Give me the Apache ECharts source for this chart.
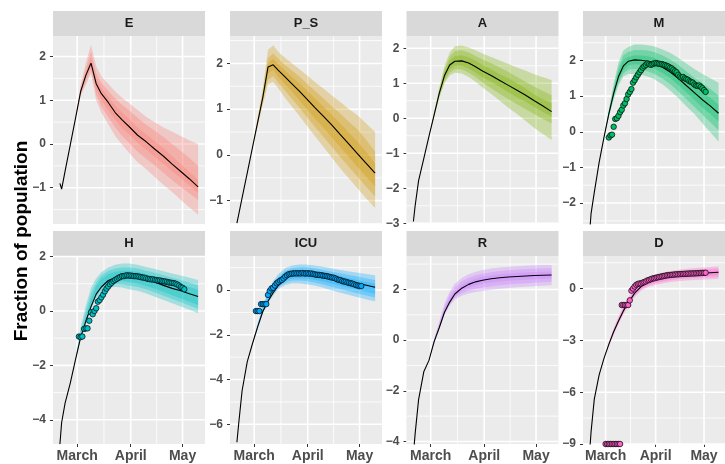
<!DOCTYPE html>
<html>
<head>
<meta charset="utf-8">
<script src="https://cdn.jsdelivr.net/npm/echarts@6/dist/echarts.min.js"></script>
<style>
html, body { margin: 0; padding: 0; background: #fff; }
#main { width: 725px; height: 464px; }
</style>
</head>
<body>
<div id="main"></div>
<script>
// days since 1 March
var medianDays = [-10, -9, -7, -4, -1, 2, 5, 8, 11, 14, 18, 22, 26, 30, 35, 40, 45, 50, 55, 60, 65, 70];
var bandDays = [-1, 2, 5, 8, 11, 14, 18, 22, 26, 30, 35, 40, 45, 50, 55, 60, 65, 70];
var monthTicks = [0, 31, 61];
var monthLabels = ['March', 'April', 'May'];

// E
var eMedian = [-0.9, -1.03, -0.62, -0.02, 0.58, 1.2, 1.57, 1.85, 1.38, 1.15, 0.95, 0.72, 0.55, 0.4, 0.2, 0.05, -0.12, -0.28, -0.46, -0.63, -0.8, -0.98];
var eOuterLo = [0.58, 1.1, 1.35, 1.62, 1.0, 0.72, 0.45, 0.18, -0.02, -0.2, -0.42, -0.58, -0.76, -0.94, -1.1, -1.28, -1.45, -1.62];
var eOuterHi = [0.58, 1.35, 1.85, 2.27, 1.78, 1.55, 1.38, 1.2, 1.06, 0.94, 0.78, 0.62, 0.5, 0.38, 0.28, 0.18, 0.08, 0.0];
var eMidLo = [0.58, 1.14, 1.42, 1.7, 1.12, 0.86, 0.62, 0.38, 0.18, 0.02, -0.18, -0.34, -0.5, -0.66, -0.83, -0.98, -1.13, -1.28];
var eMidHi = [0.58, 1.28, 1.72, 2.12, 1.62, 1.4, 1.22, 1.04, 0.9, 0.77, 0.6, 0.44, 0.3, 0.16, 0.0, -0.16, -0.32, -0.5];
var eInnerLo = [0.58, 1.17, 1.5, 1.78, 1.25, 1.0, 0.78, 0.55, 0.36, 0.22, 0.02, -0.13, -0.3, -0.46, -0.63, -0.78, -0.95, -1.12];
var eInnerHi = [0.58, 1.24, 1.64, 1.96, 1.5, 1.28, 1.08, 0.88, 0.72, 0.58, 0.38, 0.22, 0.06, -0.1, -0.28, -0.46, -0.64, -0.82];

// P_S
var pMedian = [-1.49, -1.31, -0.94, -0.39, 0.16, 0.71, 1.26, 1.92, 1.97, 1.85, 1.7, 1.55, 1.4, 1.24, 1.04, 0.85, 0.65, 0.44, 0.23, 0.02, -0.19, -0.4];
var pOuterLo = [0.16, 0.62, 1.1, 1.55, 1.6, 1.45, 1.24, 1.05, 0.86, 0.66, 0.42, 0.18, -0.06, -0.3, -0.52, -0.74, -0.96, -1.16];
var pOuterHi = [0.16, 0.8, 1.45, 2.3, 2.4, 2.25, 2.12, 2.0, 1.88, 1.76, 1.6, 1.45, 1.3, 1.15, 1.0, 0.86, 0.68, 0.5];
var pMidLo = [0.16, 0.65, 1.15, 1.65, 1.72, 1.58, 1.4, 1.22, 1.04, 0.85, 0.62, 0.4, 0.18, -0.05, -0.27, -0.48, -0.7, -0.91];
var pMidHi = [0.16, 0.77, 1.38, 2.12, 2.22, 2.1, 1.96, 1.84, 1.72, 1.58, 1.41, 1.24, 1.06, 0.9, 0.72, 0.55, 0.32, 0.07];
var pInnerLo = [0.16, 0.68, 1.2, 1.78, 1.86, 1.7, 1.54, 1.38, 1.2, 1.02, 0.8, 0.6, 0.38, 0.16, -0.05, -0.27, -0.48, -0.69];
var pInnerHi = [0.16, 0.74, 1.32, 2.0, 2.1, 1.98, 1.84, 1.7, 1.57, 1.43, 1.24, 1.06, 0.88, 0.68, 0.48, 0.28, 0.06, -0.18];

// A
var aMedian = [-2.95, -2.5, -1.78, -1.15, -0.52, 0.1, 0.72, 1.22, 1.52, 1.63, 1.64, 1.58, 1.47, 1.35, 1.22, 1.08, 0.94, 0.8, 0.66, 0.5, 0.35, 0.19];
var aOuterLo = [-0.52, 0.03, 0.58, 1.0, 1.22, 1.3, 1.28, 1.18, 1.04, 0.88, 0.7, 0.5, 0.3, 0.12, -0.08, -0.28, -0.45, -0.62];
var aOuterHi = [-0.52, 0.18, 0.88, 1.5, 1.88, 2.06, 2.08, 2.02, 1.94, 1.85, 1.75, 1.65, 1.55, 1.45, 1.36, 1.26, 1.17, 1.09];
var aMidLo = [-0.52, 0.05, 0.62, 1.06, 1.3, 1.4, 1.4, 1.3, 1.18, 1.03, 0.86, 0.7, 0.54, 0.4, 0.26, 0.12, -0.02, -0.14];
var aMidHi = [-0.52, 0.15, 0.82, 1.4, 1.76, 1.92, 1.94, 1.88, 1.78, 1.68, 1.57, 1.45, 1.32, 1.18, 1.04, 0.9, 0.78, 0.66];
var aInnerLo = [-0.52, 0.07, 0.66, 1.12, 1.4, 1.5, 1.5, 1.42, 1.3, 1.17, 1.04, 0.9, 0.74, 0.6, 0.47, 0.32, 0.18, 0.05];
var aInnerHi = [-0.52, 0.13, 0.78, 1.32, 1.64, 1.78, 1.8, 1.74, 1.64, 1.52, 1.4, 1.26, 1.14, 1.0, 0.85, 0.68, 0.54, 0.43];

// M
var mMedian = [-2.9, -2.3, -1.7, -0.86, -0.16, 0.5, 1.08, 1.55, 1.85, 1.98, 2.02, 2.01, 1.98, 1.93, 1.82, 1.68, 1.5, 1.3, 1.1, 0.9, 0.72, 0.52];
var mOuterLo = [-0.16, 0.4, 0.9, 1.3, 1.55, 1.62, 1.62, 1.6, 1.55, 1.48, 1.34, 1.16, 0.95, 0.72, 0.5, 0.24, -0.02, -0.28];
var mOuterHi = [-0.16, 0.62, 1.35, 1.95, 2.28, 2.38, 2.45, 2.45, 2.43, 2.4, 2.32, 2.22, 2.08, 1.92, 1.76, 1.62, 1.5, 1.38];
var mMidLo = [-0.16, 0.43, 0.96, 1.38, 1.64, 1.74, 1.76, 1.74, 1.7, 1.63, 1.5, 1.34, 1.14, 0.92, 0.7, 0.48, 0.26, 0.04];
var mMidHi = [-0.16, 0.58, 1.26, 1.82, 2.15, 2.24, 2.3, 2.3, 2.28, 2.24, 2.15, 2.03, 1.88, 1.7, 1.52, 1.36, 1.2, 1.02];
var mInnerLo = [-0.16, 0.45, 1.0, 1.45, 1.72, 1.86, 1.9, 1.88, 1.84, 1.78, 1.66, 1.51, 1.32, 1.11, 0.9, 0.68, 0.49, 0.29];
var mInnerHi = [-0.16, 0.55, 1.18, 1.7, 2.02, 2.1, 2.15, 2.14, 2.12, 2.08, 1.98, 1.85, 1.68, 1.49, 1.3, 1.12, 0.95, 0.76];
var mObs = [[2, -0.16], [3, -0.1], [4, -0.08], [5, 0.14], [6, 0.36], [7, 0.38], [8, 0.45], [9, 0.55], [10, 0.62], [11, 0.74],
  [12, 0.8], [13, 0.92], [14, 1.05], [15, 1.12], [16, 1.2], [17, 1.38], [18, 1.45], [19, 1.53], [20, 1.6], [21, 1.67],
  [22, 1.73], [23, 1.8], [24, 1.84], [25, 1.88], [26, 1.92], [27, 1.9], [28, 1.88], [29, 1.9], [30, 1.92], [31, 1.93],
  [32, 1.92], [33, 1.91], [34, 1.9], [35, 1.9], [36, 1.88], [37, 1.87], [38, 1.85], [39, 1.83], [40, 1.8], [41, 1.78],
  [42, 1.74], [43, 1.7], [44, 1.67], [45, 1.6], [46, 1.55], [47, 1.52], [48, 1.54], [49, 1.5], [50, 1.48], [51, 1.46],
  [52, 1.42], [53, 1.4], [54, 1.38], [55, 1.33], [56, 1.3], [57, 1.29], [58, 1.3], [59, 1.26], [60, 1.22], [61, 1.17], [62, 1.12]];

// H
var hMedian = [-4.9, -4.1, -3.39, -2.65, -1.8, -0.97, -0.38, 0.16, 0.62, 0.88, 1.12, 1.22, 1.28, 1.3, 1.27, 1.18, 1.06, 0.94, 0.83, 0.74, 0.63, 0.53];
var hOuterLo = [-1.8, -1.05, -0.5, 0.05, 0.45, 0.72, 0.86, 0.88, 0.86, 0.8, 0.74, 0.64, 0.52, 0.4, 0.28, 0.16, 0.04, -0.08];
var hOuterHi = [-1.8, -0.6, 0.2, 0.85, 1.2, 1.42, 1.6, 1.7, 1.74, 1.74, 1.7, 1.62, 1.54, 1.46, 1.38, 1.3, 1.22, 1.14];
var hMidLo = [-1.8, -1.0, -0.45, 0.1, 0.52, 0.8, 0.96, 1.0, 0.98, 0.94, 0.88, 0.8, 0.68, 0.56, 0.44, 0.32, 0.2, 0.08];
var hMidHi = [-1.8, -0.72, 0.0, 0.65, 1.05, 1.3, 1.48, 1.56, 1.6, 1.6, 1.56, 1.48, 1.4, 1.31, 1.22, 1.14, 1.04, 0.94];
var hInnerLo = [-1.8, -0.98, -0.42, 0.15, 0.6, 0.88, 1.05, 1.1, 1.1, 1.06, 1.0, 0.92, 0.82, 0.7, 0.58, 0.46, 0.34, 0.22];
var hInnerHi = [-1.8, -0.85, -0.2, 0.45, 0.92, 1.18, 1.36, 1.44, 1.48, 1.48, 1.44, 1.36, 1.27, 1.18, 1.08, 0.98, 0.88, 0.78];
var hObs = [[1, -0.94], [2, -0.96], [3, -0.94], [4, -0.66], [5, -0.64], [6, -0.64], [7, -0.36], [8, -0.05], [9, -0.12], [10, 0.0],
  [11, 0.1], [12, 0.34], [13, 0.4], [14, 0.5], [15, 0.6], [16, 0.72], [17, 0.82], [18, 0.9], [19, 0.98], [20, 1.04],
  [21, 1.1], [22, 1.14], [23, 1.18], [24, 1.22], [25, 1.25], [26, 1.28], [27, 1.28], [28, 1.3], [29, 1.31], [30, 1.3],
  [31, 1.3], [32, 1.29], [33, 1.28], [34, 1.28], [35, 1.27], [36, 1.26], [37, 1.24], [38, 1.23], [39, 1.22], [40, 1.2],
  [41, 1.18], [42, 1.17], [43, 1.16], [44, 1.16], [45, 1.14], [46, 1.13], [47, 1.12], [48, 1.12], [49, 1.1], [50, 1.09],
  [51, 1.08], [52, 1.07], [53, 1.05], [54, 1.04], [55, 1.03], [56, 1.02], [57, 1.0], [58, 0.97], [59, 0.93], [60, 0.88],
  [61, 0.85], [62, 0.8]];

// ICU
var iMedian = [-6.8, -6.0, -4.5, -3.2, -2.4, -1.65, -0.96, -0.5, -0.12, 0.2, 0.5, 0.7, 0.76, 0.77, 0.72, 0.64, 0.54, 0.46, 0.38, 0.3, 0.21, 0.12];
var iOuterLo = [-2.4, -1.75, -1.05, -0.6, -0.25, 0.05, 0.22, 0.3, 0.3, 0.26, 0.2, 0.1, -0.02, -0.12, -0.22, -0.32, -0.42, -0.5];
var iOuterHi = [-2.4, -1.5, -0.7, -0.05, 0.4, 0.72, 0.98, 1.1, 1.14, 1.14, 1.1, 1.04, 0.96, 0.9, 0.83, 0.77, 0.72, 0.66];
var iMidLo = [-2.4, -1.72, -1.0, -0.55, -0.18, 0.12, 0.32, 0.42, 0.42, 0.4, 0.34, 0.25, 0.14, 0.04, -0.05, -0.15, -0.25, -0.33];
var iMidHi = [-2.4, -1.56, -0.78, -0.2, 0.25, 0.58, 0.86, 0.98, 1.02, 1.02, 0.97, 0.9, 0.82, 0.75, 0.67, 0.6, 0.52, 0.45];
var iInnerLo = [-2.4, -1.69, -0.98, -0.5, -0.12, 0.18, 0.42, 0.52, 0.53, 0.52, 0.46, 0.38, 0.28, 0.19, 0.1, 0.01, -0.08, -0.17];
var iInnerHi = [-2.4, -1.6, -0.86, -0.32, 0.12, 0.45, 0.74, 0.86, 0.9, 0.9, 0.85, 0.78, 0.69, 0.61, 0.53, 0.45, 0.36, 0.28];
var iObs = [[1, -0.94], [2, -0.94], [3, -0.94], [4, -0.63], [5, -0.63], [6, -0.63], [7, -0.63], [8, -0.22], [9, -0.04], [10, 0.07],
  [11, 0.1], [12, 0.2], [13, 0.3], [14, 0.36], [15, 0.42], [16, 0.45], [17, 0.52], [18, 0.6], [19, 0.66], [20, 0.71],
  [21, 0.72], [22, 0.74], [23, 0.74], [24, 0.75], [25, 0.74], [26, 0.75], [27, 0.74], [28, 0.76], [29, 0.74], [30, 0.74],
  [31, 0.75], [32, 0.73], [33, 0.74], [34, 0.72], [35, 0.7], [36, 0.68], [37, 0.68], [38, 0.67], [39, 0.66], [40, 0.64],
  [41, 0.63], [42, 0.62], [43, 0.6], [44, 0.58], [45, 0.56], [46, 0.55], [47, 0.52], [48, 0.48], [49, 0.45], [50, 0.44],
  [51, 0.4], [52, 0.38], [53, 0.37], [54, 0.34], [55, 0.32], [56, 0.3], [57, 0.28], [58, 0.25], [59, 0.22], [60, 0.2],
  [61, 0.18], [62, 0.18]];

// R
var rMedian = [-4.5, -3.7, -2.35, -1.25, -0.8, -0.06, 0.5, 1.1, 1.5, 1.82, 2.05, 2.2, 2.3, 2.36, 2.42, 2.46, 2.49, 2.51, 2.53, 2.55, 2.56, 2.57];
var rOuterLo = [-0.8, -0.12, 0.42, 1.0, 1.35, 1.6, 1.75, 1.84, 1.9, 1.94, 1.99, 2.03, 2.06, 2.09, 2.11, 2.13, 2.15, 2.17];
var rOuterHi = [-0.8, 0.05, 0.75, 1.45, 1.92, 2.22, 2.45, 2.6, 2.7, 2.77, 2.83, 2.87, 2.9, 2.92, 2.94, 2.95, 2.96, 2.96];
var rMidLo = [-0.8, -0.1, 0.45, 1.04, 1.41, 1.68, 1.85, 1.96, 2.03, 2.08, 2.13, 2.17, 2.2, 2.22, 2.24, 2.26, 2.28, 2.3];
var rMidHi = [-0.8, 0.02, 0.66, 1.34, 1.8, 2.08, 2.32, 2.46, 2.56, 2.62, 2.68, 2.73, 2.76, 2.78, 2.8, 2.82, 2.83, 2.84];
var rInnerLo = [-0.8, -0.08, 0.47, 1.07, 1.46, 1.75, 1.95, 2.07, 2.16, 2.22, 2.27, 2.31, 2.34, 2.36, 2.38, 2.4, 2.42, 2.43];
var rInnerHi = [-0.8, -0.02, 0.58, 1.24, 1.66, 1.95, 2.18, 2.33, 2.43, 2.5, 2.56, 2.6, 2.63, 2.65, 2.67, 2.69, 2.7, 2.71];

// D
var dMedian = [-9.6, -8.3, -6.4, -5.0, -4.04, -3.23, -2.5, -1.88, -1.29, -0.83, -0.26, 0.12, 0.35, 0.48, 0.6, 0.7, 0.77, 0.82, 0.86, 0.89, 0.92, 0.95];
var dOuterLo = [-4.04, -3.35, -2.65, -2.05, -1.5, -1.05, -0.5, -0.12, 0.08, 0.2, 0.3, 0.38, 0.43, 0.47, 0.5, 0.52, 0.54, 0.56];
var dOuterHi = [-4.04, -3.1, -2.3, -1.6, -1.0, -0.5, 0.05, 0.42, 0.64, 0.8, 0.92, 1.02, 1.1, 1.15, 1.2, 1.23, 1.26, 1.3];
var dMidLo = [-4.04, -3.3, -2.6, -1.98, -1.42, -0.97, -0.42, -0.04, 0.16, 0.29, 0.4, 0.48, 0.54, 0.58, 0.61, 0.64, 0.66, 0.68];
var dMidHi = [-4.04, -3.15, -2.38, -1.7, -1.1, -0.62, -0.06, 0.31, 0.54, 0.69, 0.82, 0.92, 0.99, 1.04, 1.08, 1.12, 1.15, 1.18];
var dInnerLo = [-4.04, -3.27, -2.55, -1.93, -1.36, -0.9, -0.34, 0.03, 0.24, 0.37, 0.49, 0.58, 0.64, 0.68, 0.72, 0.75, 0.78, 0.8];
var dInnerHi = [-4.04, -3.19, -2.44, -1.8, -1.2, -0.72, -0.17, 0.22, 0.45, 0.59, 0.72, 0.82, 0.89, 0.94, 0.98, 1.01, 1.04, 1.07];
var dObs = [[0, -9], [1, -9], [2, -9], [3, -9], [4, -9], [5, -9], [6, -9], [7, -9], [8, -9], [9, -9],
  [10, -0.95], [11, -0.95], [12, -0.95], [13, -0.95], [14, -0.95], [15, -0.68], [16, -0.12], [17, 0.0], [18, 0.12], [19, 0.22],
  [20, 0.27], [21, 0.3], [22, 0.3], [23, 0.35], [24, 0.38], [25, 0.42], [26, 0.48], [27, 0.5], [28, 0.55], [29, 0.58],
  [30, 0.6], [31, 0.62], [32, 0.65], [33, 0.67], [34, 0.69], [35, 0.71], [36, 0.73], [37, 0.75], [38, 0.77], [39, 0.78],
  [40, 0.79], [41, 0.8], [42, 0.81], [43, 0.82], [44, 0.83], [45, 0.83], [46, 0.84], [47, 0.85], [48, 0.85], [49, 0.86],
  [50, 0.86], [51, 0.87], [52, 0.87], [53, 0.88], [54, 0.88], [55, 0.88], [56, 0.89], [57, 0.89], [58, 0.9], [59, 0.9],
  [60, 0.91], [61, 0.91], [62, 0.92]];

// layout of the facets
var colLeft = [53, 230, 406.5, 583];
var rowTop = [36, 256];
var panelW = 152, panelH = 188, stripH = 25;
var xMin = -14, xMax = 74;
var font = '"Liberation Sans", Arial, sans-serif';

var panels = [
  {name: 'E', color: '#F8766D', col: 0, row: 0, yMin: -1.83, yMax: 2.47, ticks: [-1, 0, 1, 2], median: eMedian,
    bands: [[eOuterLo, eOuterHi], [eMidLo, eMidHi], [eInnerLo, eInnerHi]]},
  {name: 'P_S', color: '#CD9600', col: 1, row: 0, yMin: -1.51, yMax: 2.6, ticks: [-1, 0, 1, 2], median: pMedian,
    bands: [[pOuterLo, pOuterHi], [pMidLo, pMidHi], [pInnerLo, pInnerHi]]},
  {name: 'A', color: '#7CAE00', col: 2, row: 0, yMin: -3.02, yMax: 2.35, ticks: [-3, -2, -1, 0, 1, 2], median: aMedian,
    bands: [[aOuterLo, aOuterHi], [aMidLo, aMidHi], [aInnerLo, aInnerHi]]},
  {name: 'M', color: '#00BE67', col: 3, row: 0, yMin: -2.59, yMax: 2.69, ticks: [-2, -1, 0, 1, 2], median: mMedian,
    bands: [[mOuterLo, mOuterHi], [mMidLo, mMidHi], [mInnerLo, mInnerHi]], obs: mObs},
  {name: 'H', color: '#00BFC4', col: 0, row: 1, yMin: -4.89, yMax: 2.02, ticks: [-4, -2, 0, 2], median: hMedian,
    bands: [[hOuterLo, hOuterHi], [hMidLo, hMidHi], [hInnerLo, hInnerHi]], obs: hObs},
  {name: 'ICU', color: '#00A9FF', col: 1, row: 1, yMin: -6.88, yMax: 1.52, ticks: [-6, -4, -2, 0], median: iMedian,
    bands: [[iOuterLo, iOuterHi], [iMidLo, iMidHi], [iInnerLo, iInnerHi]], obs: iObs},
  {name: 'R', color: '#C77CFF', col: 2, row: 1, yMin: -4.1, yMax: 3.32, ticks: [-4, -2, 0, 2], median: rMedian,
    bands: [[rOuterLo, rOuterHi], [rMidLo, rMidHi], [rInnerLo, rInnerHi]]},
  {name: 'D', color: '#FF61CC', col: 3, row: 1, yMin: -9, yMax: 1.89, ticks: [-9, -6, -3, 0], median: dMedian,
    bands: [[dOuterLo, dOuterHi], [dMidLo, dMidHi], [dInnerLo, dInnerHi]], obs: dObs}
];

function minusLabel(v) {
  return v < 0 ? '\u2212' + Math.abs(v) : String(v);
}

// minor breaks half way between the labelled ones
function minorBreaks(ticks, lo, hi) {
  var out = [], step = ticks[1] - ticks[0];
  for (var v = ticks[0] - step / 2; v < hi; v += step) {
    if (v > lo) out.push(v);
  }
  return out;
}
var monthMinor = [(monthTicks[0] + monthTicks[1]) / 2, (monthTicks[1] + monthTicks[2]) / 2];

// grey panel with white grid, drawn as one group so the order is fixed
// (grid.backgroundColor ends up above the split lines here)
function panelRenderer(p) {
  var yMinor = minorBreaks(p.ticks, p.yMin, p.yMax);
  return function (params, api) {
    var cs = params.coordSys;
    var kids = [{type: 'rect', shape: {x: cs.x, y: cs.y, width: cs.width, height: cs.height},
      style: {fill: '#EBEBEB'}}];
    function vline(v, w) {
      var x = api.coord([v, p.yMin])[0];
      kids.push({type: 'line', shape: {x1: x, y1: cs.y, x2: x, y2: cs.y + cs.height},
        style: {stroke: '#FFFFFF', lineWidth: w}});
    }
    function hline(v, w) {
      var y = api.coord([xMin, v])[1];
      kids.push({type: 'line', shape: {x1: cs.x, y1: y, x2: cs.x + cs.width, y2: y},
        style: {stroke: '#FFFFFF', lineWidth: w}});
    }
    monthMinor.forEach(function (v) { vline(v, 0.8); });
    yMinor.forEach(function (v) { hline(v, 0.8); });
    monthTicks.forEach(function (v) { vline(v, 1.6); });
    p.ticks.forEach(function (v) { hline(v, 1.6); });
    return {type: 'group', children: kids};
  };
}

function bandRenderer(p) {
  return function (params, api) {
    var b = p.bands[params.dataIndex];
    var pts = [], i;
    for (i = 0; i < bandDays.length; i++) pts.push(api.coord([bandDays[i], b[1][i]]));
    for (i = bandDays.length - 1; i >= 0; i--) pts.push(api.coord([bandDays[i], b[0][i]]));
    var cs = params.coordSys;
    return {
      type: 'polygon',
      shape: {points: pts},
      style: {fill: p.color, opacity: 0.3},
      clipPath: {type: 'rect', shape: {x: cs.x, y: cs.y, width: cs.width, height: cs.height}}
    };
  };
}

var grids = [], xAxes = [], yAxes = [], series = [], graphics = [];

panels.forEach(function (p, k) {
  var left = colLeft[p.col], top = rowTop[p.row];
  var bottomRow = p.row === 1;

  grids.push({left: left, top: top, width: panelW, height: panelH, show: false});

  xAxes.push({
    type: 'value', gridIndex: k, min: xMin, max: xMax, position: 'bottom',
    axisLine: {show: false, onZero: false}, splitLine: {show: false},
    axisTick: {show: bottomRow, customValues: monthTicks, length: 3, lineStyle: {color: '#333333'}},
    axisLabel: {
      show: bottomRow, customValues: monthTicks, margin: 5,
      color: '#4D4D4D', fontSize: 14, fontWeight: 'bold', fontFamily: font,
      formatter: function (v) { return monthLabels[monthTicks.indexOf(v)] || ''; }
    }
  });
  yAxes.push({
    type: 'value', gridIndex: k, min: p.yMin, max: p.yMax, position: 'left',
    axisLine: {show: false, onZero: false}, splitLine: {show: false},
    axisTick: {show: true, customValues: p.ticks, length: 3, lineStyle: {color: '#333333'}},
    axisLabel: {
      customValues: p.ticks, margin: 7,
      color: '#4D4D4D', fontSize: 12, fontWeight: 'bold', fontFamily: font,
      formatter: minusLabel
    }
  });

  series.push({
    type: 'custom', xAxisIndex: k, yAxisIndex: k, z: 10, silent: true,
    renderItem: panelRenderer(p), data: [[0, 0]]
  });
  series.push({
    type: 'custom', xAxisIndex: k, yAxisIndex: k, z: 11, silent: true,
    renderItem: bandRenderer(p), data: [[0, 0], [1, 0], [2, 0]]
  });
  series.push({
    type: 'line', xAxisIndex: k, yAxisIndex: k, z: 12, silent: true,
    showSymbol: false, clip: true,
    lineStyle: {color: '#000000', width: 1.1},
    data: medianDays.map(function (d, i) { return [d, p.median[i]]; })
  });
  if (p.obs) {
    series.push({
      type: 'scatter', xAxisIndex: k, yAxisIndex: k, z: 13, silent: true,
      symbolSize: 5.5, clip: false,
      itemStyle: {color: p.color, borderColor: '#000000', borderWidth: 0.7, opacity: 1},
      data: p.obs
    });
  }

  // facet strip
  graphics.push({
    type: 'rect', left: left, top: top - stripH, z: 0,
    shape: {width: panelW, height: stripH},
    style: {fill: '#D9D9D9'}
  });
  graphics.push({
    type: 'text', x: left + panelW / 2, y: top - stripH / 2, z: 1,
    style: {text: p.name, fill: '#1A1A1A', font: 'bold 13px ' + font, align: 'center', verticalAlign: 'middle'}
  });
});

graphics.push({
  type: 'text', x: 22, y: 241, rotation: Math.PI / 2,
  style: {text: 'Fraction of population', fill: '#000000', font: 'bold 19px ' + font,
    align: 'center', verticalAlign: 'middle'}
});

var chart = echarts.init(document.getElementById('main'));
chart.setOption({
  animation: false,
  backgroundColor: '#FFFFFF',
  grid: grids,
  xAxis: xAxes,
  yAxis: yAxes,
  series: series,
  graphic: graphics
});
</script>
</body>
</html>
